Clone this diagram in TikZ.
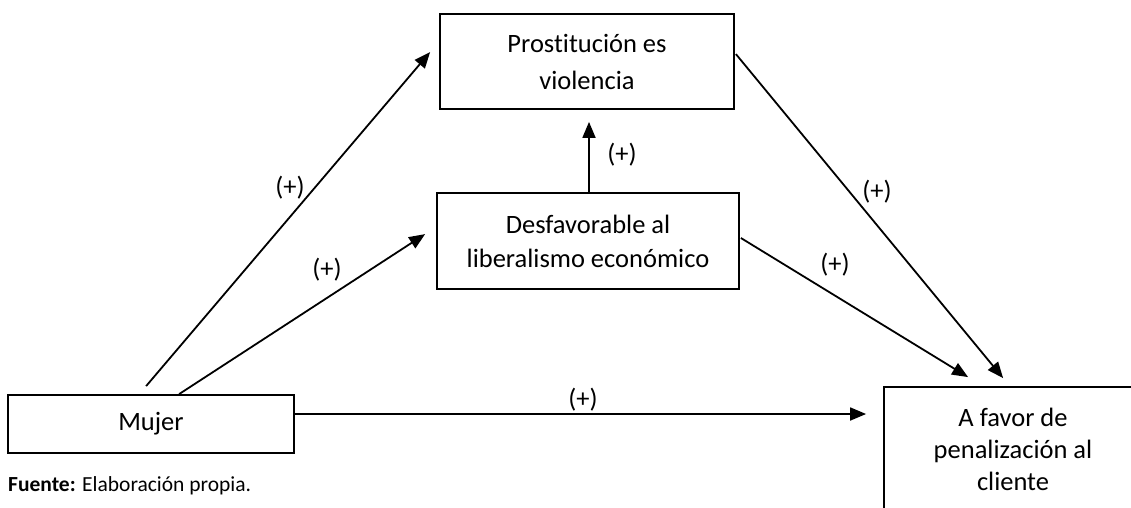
\documentclass[tikz,border=0pt]{standalone}
\usepackage{fontspec}
\setmainfont{Carlito}[Ligatures=CommonOff]
\usetikzlibrary{arrows.meta,calc}
\begin{document}
\begin{tikzpicture}[x=1pt,y=-1pt,
  box/.style={draw, line width=1.8pt, align=center, inner sep=0pt, font=\fontsize{26.5}{34}\selectfont},
  arr/.style={line width=1.8pt, -{Triangle[length=16pt,width=13pt]}},
  sign/.style={font=\fontsize{26.5}{32}\selectfont, inner sep=0pt}]
\useasboundingbox (0,0) rectangle (1131,507);
\clip (0,0) rectangle (1131,507);
\node[box, minimum width=294pt, minimum height=95pt, font=\fontsize{26.5}{37}\selectfont] (prost) at (587,61.5) {Prostitución es\\violencia};
\node[box, minimum width=302pt, minimum height=96pt] (desf) at (588,241) {Desfavorable al\\liberalismo económico};
\node[box, minimum width=286pt, minimum height=58pt] (mujer) at (151,424) {Mujer};
\node[box, minimum width=258pt, minimum height=124pt, font=\fontsize{26.5}{32}\selectfont] (afavor) at (1013,449) {A favor de\\penalización al\\cliente};
\node[anchor=base west, inner sep=0pt, font=\fontsize{21.5}{25}\selectfont] (fuente) at (8,491) {\textbf{Fuente:} Elaboración propia.};

\draw[arr] ($(mujer.north west)+(139,-8)$) -- ($(prost.north west)+(-9,39)$);
\draw[arr] ($(mujer.north west)+(172,0)$) -- ($(desf.north west)+(-11,42)$);
\draw[arr] ($(desf.north)+(1,0)$) -- ($(prost.south)+(2,12)$);
\draw[arr] ($(prost.north east)+(1,41)$) -- ($(afavor.north west)+(120,-8)$);
\draw[arr] ($(desf.east)+(1,-3)$) -- ($(afavor.north west)+(85,-9)$);
\draw[arr] ($(mujer.east)+(0,-10)$) -- ($(mujer.east -| afavor.west)+(-17,-10)$);

\node[sign] (s1) at (290,188) {(+)};
\node[sign] (s2) at (327,270) {(+)};
\node[sign] (s3) at (622,155) {(+)};
\node[sign] (s4) at (877,192) {(+)};
\node[sign] (s5) at (835,265) {(+)};
\node[sign] (s6) at (583,400) {(+)};
\end{tikzpicture}
\end{document}
